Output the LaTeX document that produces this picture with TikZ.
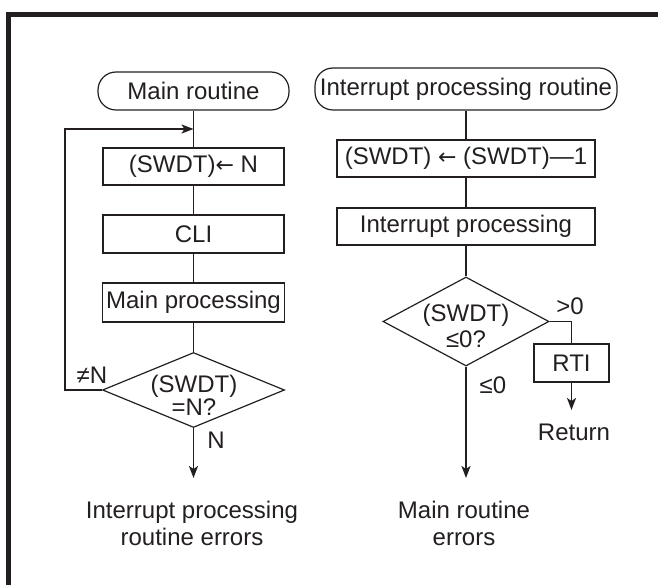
\documentclass[tikz,border=0pt]{standalone}
\usepackage{fontspec}
\setmainfont{Liberation Sans}
\newfontfamily\symf{DejaVu Sans}
\usetikzlibrary{shapes.geometric,arrows.meta}
\definecolor{ink}{HTML}{231F20}
\newcommand{\larr}{{\symf\fontsize{22}{27}\selectfont ←}}
\begin{document}
\begin{tikzpicture}[x=1pt,y=-1pt,
  every node/.style={font=\fontsize{24}{27}\selectfont, text=ink},
  proc/.style={draw=ink, line width=1.2pt, rectangle, inner sep=0pt},
  term/.style={draw=ink, line width=1.2pt, rectangle, rounded corners=18pt, inner sep=0pt},
  dec/.style={draw=ink, line width=1.2pt, diamond, inner sep=0pt},
  light/.style={draw=ink, line width=1.2pt},
  heavy/.style={draw=ink, line width=1.9pt},
  arr/.style={heavy, -{Stealth[length=12pt,width=9pt,inset=3pt]}},
  lbl/.style={inner sep=0pt, align=center}
]
\useasboundingbox (0,0) rectangle (658,585);
% frame
\draw[ink, line width=5.3pt] (8.3,590) -- (8.3,14.2) -- (665,14.2);

% ---------- left flow ----------
\node[term, minimum width=191pt, minimum height=38pt] (mainr) at (193.5,91) {Main routine};
\node[proc, minimum width=181pt, minimum height=37pt] (b1) at (193.5,166.5) {(SWDT)\larr\ N};
\node[proc, minimum width=181pt, minimum height=38pt] (b2) at (193.5,234) {CLI};
\node[proc, minimum width=182pt, minimum height=39pt] (b3) at (193.5,302.5) {Main processing};
\node[dec, minimum width=182pt, minimum height=75pt] (d1) at (193.5,390) {};
\node[lbl, font=\fontsize{24}{19}\selectfont] (d1t) at (194,395) {(SWDT)\\=N?};
\node[lbl] (ne) at (92,375) {≠N};
\node[lbl] (nl) at (216,440) {N};
\coordinate (j1) at (193.5,129);
\coordinate (lpx) at (65,0);
\coordinate (e1) at (193.5,478);
\node[lbl] (err1) at (192,523) {Interrupt processing\\routine errors};

\draw[light] (mainr) -- (b1);
\draw[light] (b1) -- (b2);
\draw[light] (b2) -- (b3);
\draw[light] (b3) -- (d1);
\draw[arr] (d1.west) -- (d1.west -| lpx) |- (j1);
\draw[arr] (d1.south) -- (e1);

% ---------- right flow ----------
\node[term, minimum width=302pt, minimum height=42pt] (intr) at (466,89) {Interrupt processing routine};
\node[proc, minimum width=258pt, minimum height=37pt] (c1) at (466,158.5) {(SWDT) \larr\ (SWDT)—1};
\node[proc, minimum width=258pt, minimum height=37pt] (c2) at (466,226.5) {Interrupt processing};
\node[dec, minimum width=166pt, minimum height=89pt] (d2) at (466,321.5) {};
\node[lbl, font=\fontsize{24}{26}\selectfont] (d2t) at (466,326) {(SWDT)\\≤0?};
\node[proc, minimum width=75pt, minimum height=38pt] (rti) at (571.5,363) {RTI};
\node[lbl] (gt) at (570,306) {>0};
\node[lbl] (le) at (493,385) {≤0};
\coordinate (e2) at (466,478);
\coordinate (e3) at (571.5,410);
\node[lbl] (ret) at (574,432) {Return};
\node[lbl] (err2) at (464,523) {Main routine\\errors};

\draw[light] (intr) -- (c1);
\draw[light] (c1) -- (c2);
\draw[light] (c2) -- (d2);
\draw[light] (d2.east) -| (rti.north);
\draw[arr] (d2.south) -- (e2);
\draw[arr] (rti.south) -- (e3);
\end{tikzpicture}
\end{document}
